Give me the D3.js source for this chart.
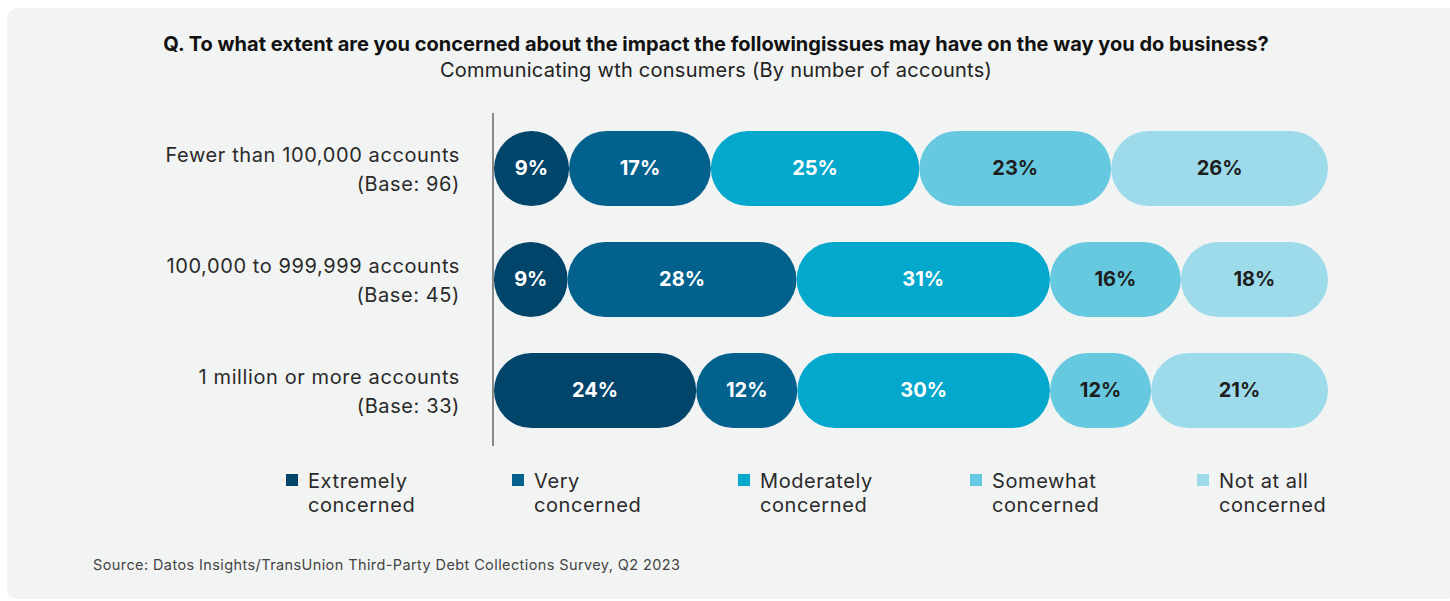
<!DOCTYPE html>
<html>
<head>
<meta charset="utf-8">
<script src="https://cdn.jsdelivr.net/npm/d3@7"></script>
<style>
  html, body { margin: 0; padding: 0; background: #ffffff; }
  svg { display: block; }
</style>
</head>
<body>
<svg id="chart" width="1450" height="601"></svg>
<script>
// Survey response shares by portfolio size
const groups = ["Fewer than 100,000 accounts", "100,000 to 999,999 accounts", "1 million or more accounts"];
const bases = ["(Base: 96)", "(Base: 45)", "(Base: 33)"];
const levels = ["Extremely concerned", "Very concerned", "Moderately concerned", "Somewhat concerned", "Not at all concerned"];
const legendLines = [["Extremely", "concerned"], ["Very", "concerned"], ["Moderately", "concerned"], ["Somewhat", "concerned"], ["Not at all", "concerned"]];
const extremely = [9, 9, 24];
const very = [17, 28, 12];
const moderately = [25, 31, 30];
const somewhat = [23, 16, 12];
const notAtAll = [26, 18, 21];
const colors = ["#02456a", "#03618e", "#03a8cc", "#66c9df", "#9ddbea"];
const labelColors = ["#ffffff", "#ffffff", "#ffffff", "#1e1e1e", "#1e1e1e"];

const series = [extremely, very, moderately, somewhat, notAtAll];
const rows = groups.map((g, i) => {
  const vals = series.map(s => s[i]);
  const total = d3.sum(vals);
  let acc = 0;
  return {
    group: g, base: bases[i],
    segs: vals.map((v, k) => {
      const s = { key: levels[k], k, v, x0: acc / total * 100, x1: (acc + v) / total * 100 };
      acc += v;
      return s;
    })
  };
});

const svg = d3.select("#chart");
const font = "Inter, 'Open Sans', sans-serif";

// Panel background
svg.append("rect").attr("x", 7).attr("y", 8).attr("width", 1450).attr("height", 591)
  .attr("rx", 10).attr("fill", "#f2f4f3");

// Titles
svg.append("text").attr("x", 716).attr("y", 51).attr("text-anchor", "middle")
  .attr("font-family", font).attr("font-weight", 700).attr("font-size", 20).attr("fill", "#111")
  .text("Q. To what extent are you concerned about the impact the followingissues may have on the way you do business?");
svg.append("text").attr("x", 716).attr("y", 77).attr("text-anchor", "middle")
  .attr("font-family", font).attr("font-size", 20).attr("letter-spacing", 0.25).attr("fill", "#222")
  .text("Communicating wth consumers (By number of accounts)");

const x = d3.scaleLinear().domain([0, 100]).range([494, 1328]);
const y = d3.scaleBand().domain(groups).range([113, 446]).paddingInner(0.324).paddingOuter(0.162);

// Vertical baseline
svg.append("line").attr("x1", 493).attr("x2", 493).attr("y1", 113).attr("y2", 446)
  .attr("stroke", "#8a8a8a").attr("stroke-width", 2);

// Row labels
const rowLabels = svg.append("g");
rows.forEach(r => {
  const cy = y(r.group) + y.bandwidth() / 2;
  const t = rowLabels.append("text").attr("text-anchor", "end")
    .attr("font-family", font).attr("font-size", 20).attr("letter-spacing", 0.6).attr("fill", "#2a2a2a");
  t.append("tspan").attr("x", 460).attr("y", cy - 7).text(r.group);
  t.append("tspan").attr("x", 460).attr("y", cy + 22).text(r.base);
});

// Pill-shaped segments
const rowG = svg.append("g").selectAll("g").data(rows).join("g")
  .attr("transform", d => `translate(0,${y(d.group)})`);
const seg = rowG.selectAll("g").data(d => d.segs).join("g");
seg.append("rect")
  .attr("x", d => x(d.x0))
  .attr("y", 0)
  .attr("width", d => x(d.x1) - x(d.x0))
  .attr("height", y.bandwidth())
  .attr("rx", d => Math.min(y.bandwidth(), x(d.x1) - x(d.x0)) / 2)
  .attr("fill", d => colors[d.k]);
seg.append("text")
  .attr("x", d => (x(d.x0) + x(d.x1)) / 2)
  .attr("y", y.bandwidth() / 2 + 7)
  .attr("text-anchor", "middle")
  .attr("font-family", font).attr("font-weight", 700).attr("font-size", 20)
  .attr("fill", d => labelColors[d.k])
  .text(d => d.v + "%");

// Legend
const legendX = [286, 512, 738, 970, 1197];
const leg = svg.append("g").selectAll("g").data(levels).join("g")
  .attr("transform", (d, i) => `translate(${legendX[i]},474)`);
leg.append("rect").attr("x", 0).attr("y", 0).attr("width", 12).attr("height", 12)
  .attr("fill", (d, i) => colors[i]);
leg.append("text").attr("font-family", font).attr("font-size", 20).attr("letter-spacing", 0.6).attr("fill", "#2a2a2a")
  .each(function(d, i) {
    const t = d3.select(this);
    legendLines[i].forEach((line, j) => {
      t.append("tspan").attr("x", 22).attr("y", 14 + j * 24).text(line);
    });
  });

// Source note
svg.append("text").attr("x", 93).attr("y", 570)
  .attr("font-family", font).attr("font-size", 14.5).attr("letter-spacing", 0.4).attr("fill", "#444")
  .text("Source: Datos Insights/TransUnion Third-Party Debt Collections Survey, Q2 2023");
</script>
</body>
</html>
